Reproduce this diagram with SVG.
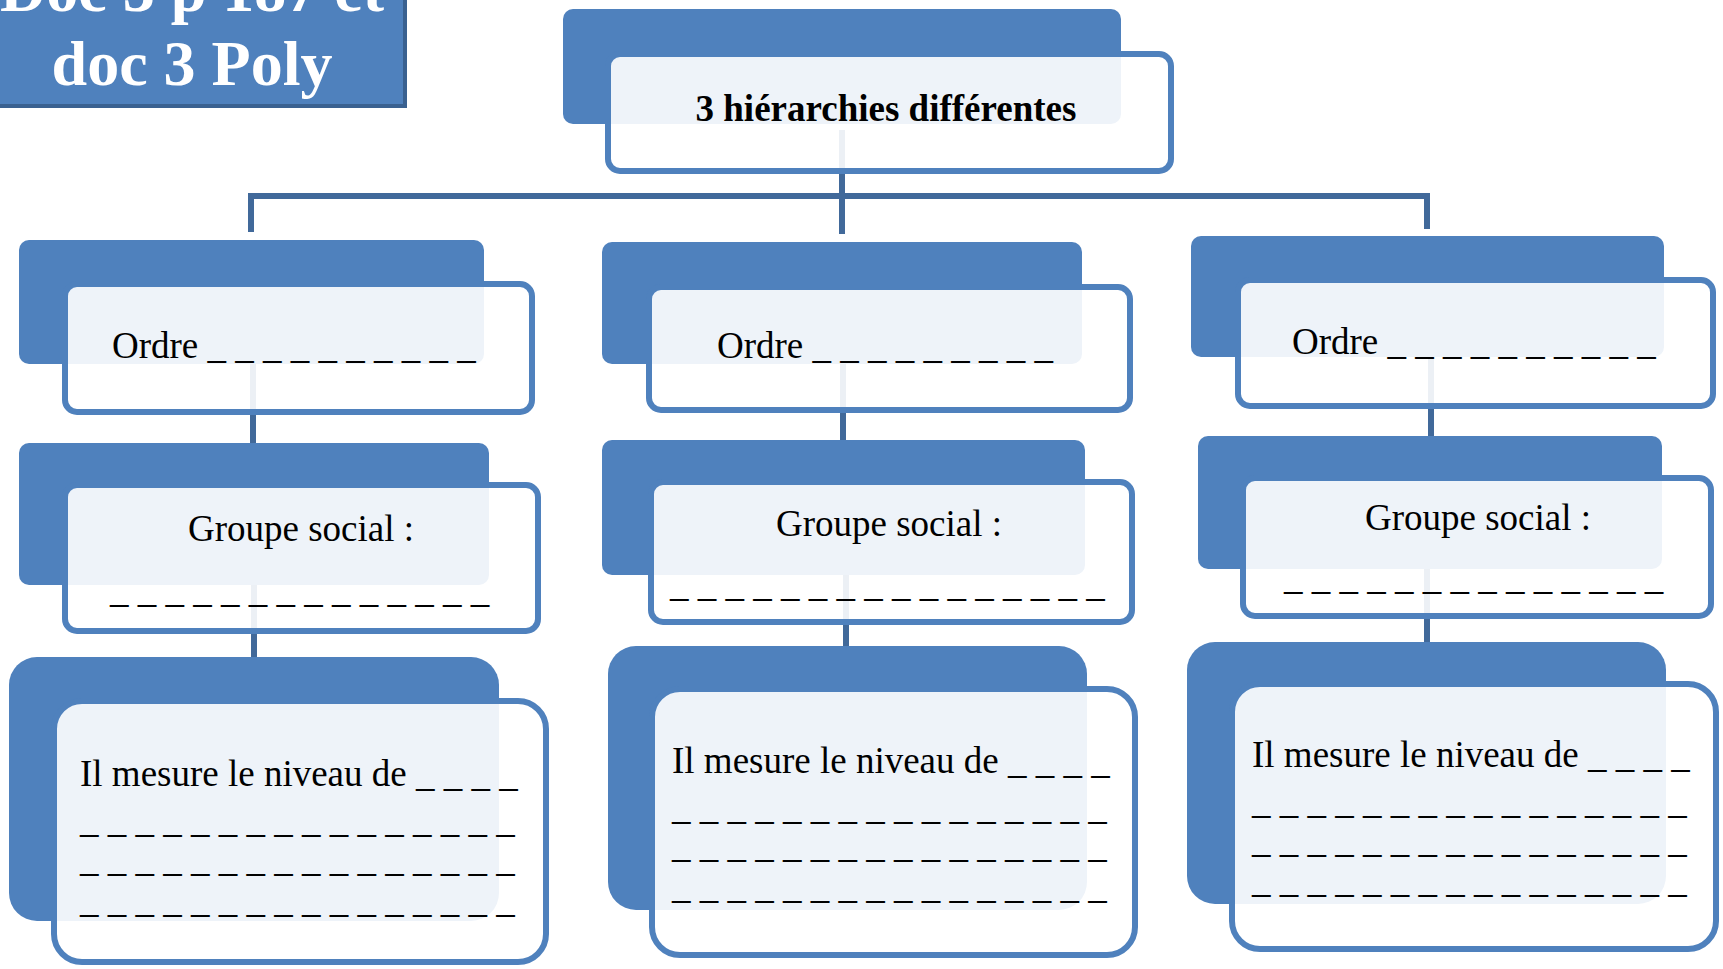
<svg xmlns="http://www.w3.org/2000/svg" width="1723" height="969" viewBox="0 0 1723 969">
<style>
.back{fill:#4f81bd}
.front{fill:#ffffff;fill-opacity:0.9;stroke:#4f81bd;stroke-width:6}
.t{font-family:"Liberation Serif","Times New Roman",serif;font-size:37px;fill:#000}
.b{font-weight:bold}
.conn{stroke:#41699a;stroke-width:6;fill:none;stroke-linejoin:miter}
.title{font-family:"Liberation Serif","Times New Roman",serif;font-size:64px;font-weight:bold;fill:#fff;text-anchor:middle}
</style>
<rect width="1723" height="969" fill="#fff"/>
<g id="connectors">
<path class="conn" d="M842 130 V196 M251 232 V196 H1427 V229 M842 196 V234"/>
<path class="conn" d="M253 364 V445 M254 585 V659"/>
<path class="conn" d="M843 364 V442 M846 575 V648"/>
<path class="conn" d="M1431 357 V438 M1427 569 V644"/>
</g>
<g id="title">
<rect x="-10" y="-10" width="415" height="116" fill="#4f81bd" stroke="#3a6190" stroke-width="4"/>
<text class="title" x="192" y="11">Doc 3 p 187 et</text>
<text class="title" x="192" y="85">doc 3 Poly</text>
</g>
<g id="root">
<rect class="back" x="563" y="9" width="558" height="115" rx="10"/>
<rect class="front" x="608" y="54" width="563" height="117" rx="12"/>
<text class="t b" x="886" y="121" text-anchor="middle">3 hiérarchies différentes</text>
</g>
<g id="ordre1">
<rect class="back" x="19" y="240" width="465" height="124" rx="10"/>
<rect class="front" x="65" y="284" width="467" height="128" rx="12"/>
<text class="t" x="112" y="358">Ordre _ _ _ _ _ _ _ _ _ _</text>
</g>
<g id="groupe1">
<rect class="back" x="19" y="443" width="470" height="142" rx="10"/>
<rect class="front" x="65" y="485" width="473" height="146" rx="12"/>
<text class="t" x="188" y="541">Groupe social :</text>
<text class="t" x="110" y="602">_ _ _ _ _ _ _ _ _ _ _ _ _ _</text>
</g>
<g id="niveau1">
<rect class="back" x="9" y="657" width="490" height="264" rx="28"/>
<rect class="front" x="54" y="701" width="492" height="261" rx="28"/>
<text class="t" x="80" y="786">Il mesure le niveau de _ _ _ _</text>
<text class="t" x="80" y="832">_ _ _ _ _ _ _ _ _ _ _ _ _ _ _ _</text>
<text class="t" x="80" y="871">_ _ _ _ _ _ _ _ _ _ _ _ _ _ _ _</text>
<text class="t" x="80" y="912">_ _ _ _ _ _ _ _ _ _ _ _ _ _ _ _</text>
</g>
<g id="ordre2">
<rect class="back" x="602" y="242" width="480" height="122" rx="10"/>
<rect class="front" x="649" y="287" width="481" height="123" rx="12"/>
<text class="t" x="717" y="358">Ordre _ _ _ _ _ _ _ _ _</text>
</g>
<g id="groupe2">
<rect class="back" x="602" y="440" width="483" height="135" rx="10"/>
<rect class="front" x="651" y="482" width="481" height="140" rx="12"/>
<text class="t" x="776" y="536">Groupe social :</text>
<text class="t" x="670" y="596">_ _ _ _ _ _ _ _ _ _ _ _ _ _ _ _</text>
</g>
<g id="niveau2">
<rect class="back" x="608" y="646" width="479" height="264" rx="28"/>
<rect class="front" x="652" y="689" width="483" height="266" rx="28"/>
<text class="t" x="672" y="773">Il mesure le niveau de _ _ _ _</text>
<text class="t" x="672" y="819">_ _ _ _ _ _ _ _ _ _ _ _ _ _ _ _</text>
<text class="t" x="672" y="857">_ _ _ _ _ _ _ _ _ _ _ _ _ _ _ _</text>
<text class="t" x="672" y="898">_ _ _ _ _ _ _ _ _ _ _ _ _ _ _ _</text>
</g>
<g id="ordre3">
<rect class="back" x="1191" y="236" width="473" height="121" rx="10"/>
<rect class="front" x="1238" y="280" width="475" height="126" rx="12"/>
<text class="t" x="1292" y="354">Ordre _ _ _ _ _ _ _ _ _ _</text>
</g>
<g id="groupe3">
<rect class="back" x="1198" y="436" width="464" height="133" rx="10"/>
<rect class="front" x="1243" y="478" width="468" height="138" rx="12"/>
<text class="t" x="1365" y="530">Groupe social :</text>
<text class="t" x="1284" y="589">_ _ _ _ _ _ _ _ _ _ _ _ _ _</text>
</g>
<g id="niveau3">
<rect class="back" x="1187" y="642" width="479" height="262" rx="28"/>
<rect class="front" x="1232" y="684" width="484" height="265" rx="28"/>
<text class="t" x="1252" y="767">Il mesure le niveau de _ _ _ _</text>
<text class="t" x="1252" y="813">_ _ _ _ _ _ _ _ _ _ _ _ _ _ _ _</text>
<text class="t" x="1252" y="852">_ _ _ _ _ _ _ _ _ _ _ _ _ _ _ _</text>
<text class="t" x="1252" y="892">_ _ _ _ _ _ _ _ _ _ _ _ _ _ _ _</text>
</g>
</svg>
